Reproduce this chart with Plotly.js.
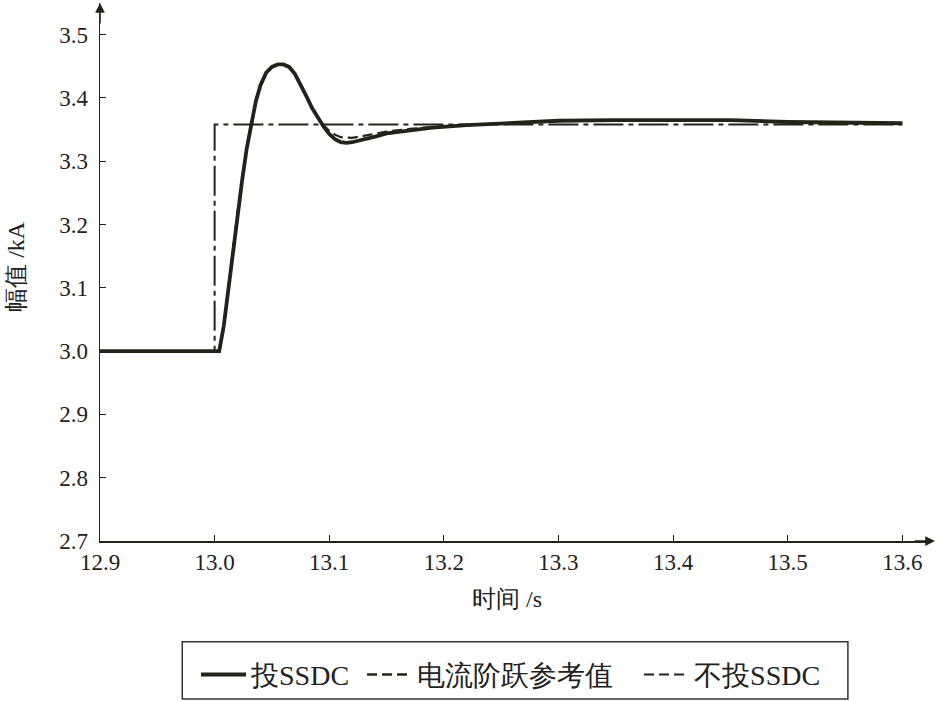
<!DOCTYPE html>
<html>
<head>
<meta charset="utf-8">
<script src="https://cdn.plot.ly/plotly-3.0.1.min.js"></script>
<style>html,body{margin:0;padding:0;background:#fff;}#chart{width:936px;height:702px;}</style>
</head>
<body>
<div id="chart"></div>
<script>
// Time axis (s)
const time = [12.9, 13.0, 13.004, 13.008, 13.012, 13.016, 13.020, 13.024, 13.028, 13.032, 13.036, 13.040, 13.045, 13.050, 13.055, 13.060, 13.065, 13.070, 13.075, 13.080, 13.085, 13.090, 13.095, 13.100, 13.105, 13.110, 13.115, 13.120, 13.130, 13.140, 13.150, 13.170, 13.190, 13.220, 13.260, 13.300, 13.350, 13.450, 13.500, 13.550, 13.600];
// 投SSDC (kA)
const withSSDC = [3.0, 3.0, 3.0, 3.04, 3.10, 3.16, 3.22, 3.27, 3.32, 3.36, 3.395, 3.42, 3.44, 3.449, 3.453, 3.453, 3.449, 3.438, 3.422, 3.403, 3.384, 3.368, 3.355, 3.343, 3.335, 3.330, 3.329, 3.330, 3.334, 3.339, 3.344, 3.349, 3.353, 3.357, 3.360, 3.364, 3.365, 3.365, 3.362, 3.361, 3.360];
// 不投SSDC (kA)
const withoutSSDC = [3.0, 3.0, 3.0, 3.04, 3.10, 3.16, 3.22, 3.27, 3.32, 3.36, 3.395, 3.42, 3.44, 3.449, 3.453, 3.453, 3.449, 3.438, 3.422, 3.403, 3.384, 3.368, 3.357, 3.348, 3.342, 3.338, 3.337, 3.337, 3.340, 3.343, 3.347, 3.351, 3.354, 3.357, 3.360, 3.364, 3.365, 3.365, 3.362, 3.361, 3.360];
// 电流阶跃参考值
const refTime = [12.9, 13.0, 13.0, 13.6];
const refValue = [3.0, 3.0, 3.358, 3.358];

const seriesNames = ['投SSDC', '电流阶跃参考值', '不投SSDC'];
const xTicks = [12.9, 13.0, 13.1, 13.2, 13.3, 13.4, 13.5, 13.6];
const xTickText = ['12.9', '13.0', '13.1', '13.2', '13.3', '13.4', '13.5', '13.6'];
const yTicks = [2.7, 2.8, 2.9, 3.0, 3.1, 3.2, 3.3, 3.4, 3.5];
const yTickText = ['2.7', '2.8', '2.9', '3.0', '3.1', '3.2', '3.3', '3.4', '3.5'];

const FONT = 'Liberation Serif, Times New Roman, serif';
const INK = '#23231a';
const NB = '\u00a0';

const traces = [
  {x: time, y: withSSDC, name: seriesNames[0] + NB, mode: 'lines', legendrank: 1,
   line: {color: INK, width: 3.8}},
  {x: refTime, y: refValue, name: seriesNames[1], mode: 'lines', showlegend: false,
   line: {color: INK, width: 2, dash: '30px,5px,5px,5px'}},
  {x: time, y: withoutSSDC, name: seriesNames[2], mode: 'lines', legendrank: 3,
   line: {color: INK, width: 2.2, dash: '10px,5px'}},
  // legend key for the reference step, drawn as a plain dash as in the original key
  {x: [null], y: [null], name: seriesNames[1] + NB + NB + NB, mode: 'lines', legendrank: 2,
   line: {color: INK, width: 2.5, dash: '10px,5px'}}
];

const layout = {
  width: 936, height: 702,
  margin: {l: 100, r: 5, t: 3, b: 160},
  paper_bgcolor: '#fff', plot_bgcolor: '#fff',
  font: {family: FONT, color: '#222', size: 22},
  showlegend: true,
  legend: {orientation: 'h', x: 0.4946, xanchor: 'center', y: -0.2, yanchor: 'top',
           borderwidth: 0, bgcolor: 'rgba(0,0,0,0)',
           font: {family: FONT, size: 28, color: '#222'},
           itemwidth: 45, traceorder: 'normal'},
  xaxis: {range: [12.9, 13.625], tickvals: xTicks, ticktext: xTickText,
          showgrid: false, zeroline: false, showline: true, linecolor: INK, linewidth: 1.5,
          ticks: 'inside', ticklen: 6, tickcolor: INK, tickwidth: 1,
          tickfont: {family: FONT, size: 23, color: '#222'}, fixedrange: true},
  yaxis: {range: [2.7, 3.55], tickvals: yTicks, ticktext: yTickText,
          showgrid: false, zeroline: false, showline: true, linecolor: INK, linewidth: 1.5,
          ticks: 'inside', ticklen: 6, tickcolor: INK, tickwidth: 1, ticklabelstandoff: 6,
          tickfont: {family: FONT, size: 23, color: '#222'}, fixedrange: true},
  shapes: [
    {type: 'rect', xref: 'paper', yref: 'paper', x0: 0.099, x1: 0.9, y0: -0.1874, y1: -0.2935,
     line: {color: '#333', width: 1.5}, fillcolor: 'rgba(0,0,0,0)'}
  ],
  annotations: [
    {xref: 'paper', yref: 'paper', x: -0.102, y: 0.51, xanchor: 'center', yanchor: 'middle',
     text: '幅值 /kA', showarrow: false, textangle: -90,
     font: {family: FONT, size: 24, color: '#222'}},
    {xref: 'paper', yref: 'paper', x: 0.49, y: -0.108, xanchor: 'center', yanchor: 'middle',
     text: '时间 /s', showarrow: false,
     font: {family: FONT, size: 24, color: '#222'}},
    {xref: 'x', yref: 'paper', x: 12.9, y: 1.0, ax: 0, ay: 22, text: '', showarrow: true,
     arrowhead: 2, arrowsize: 1.3, arrowwidth: 1.5, arrowcolor: INK},
    {xref: 'paper', yref: 'y', x: 1.005, y: 2.7, ax: -22, ay: 0, text: '', showarrow: true,
     arrowhead: 2, arrowsize: 1.3, arrowwidth: 1.5, arrowcolor: INK}
  ]
};

Plotly.newPlot('chart', traces, layout, {displayModeBar: false, staticPlot: true});
</script>
</body>
</html>
